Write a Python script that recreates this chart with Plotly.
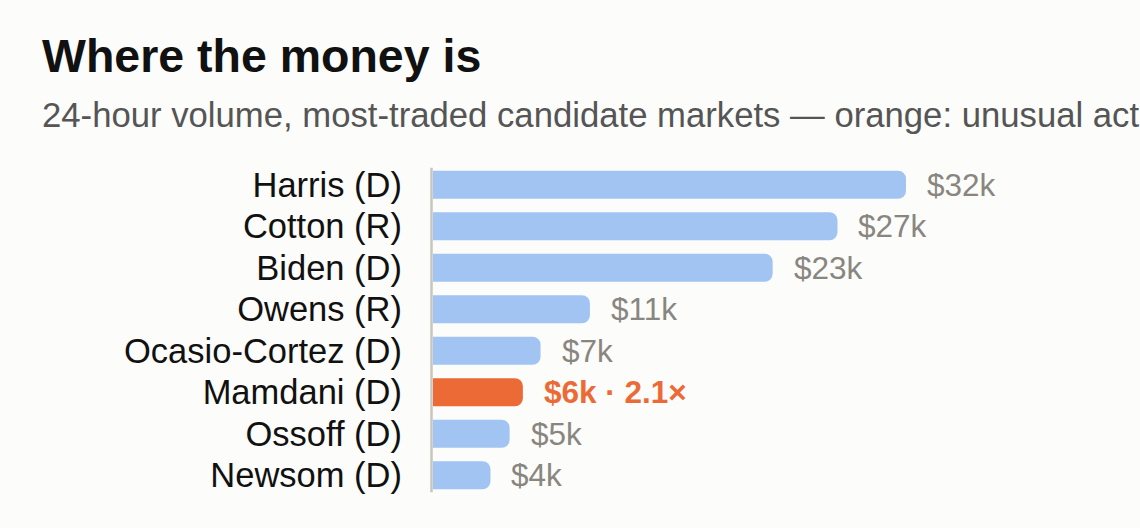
import plotly.graph_objects as go

# data
candidates = ["Harris (D)", "Cotton (R)", "Biden (D)", "Owens (R)",
              "Ocasio-Cortez (D)", "Mamdani (D)", "Ossoff (D)", "Newsom (D)"]
volume_usd = [32100, 27450, 23050, 10650, 7300, 6100, 5200, 3900]
unusual_ratio = [None, None, None, None, None, 2.1, None, None]

title = "Where the money is"
subtitle = "24-hour volume, most-traded candidate markets \u2014 orange: unusual activity vs. 7-day average"

FONT = "Liberation Sans, Arial, Helvetica, sans-serif"
BLUE = "#a1c4f3"
ORANGE = "#eb6a36"
BG = "#fcfcfa"

W, H = 1140, 528
M_L, M_R, M_T, M_B = 430, 20, 164, 32
plot_w = W - M_L - M_R
plot_h = H - M_T - M_B
px_per_usd = 473 / 32100
x_min = -3 / px_per_usd
x_max = x_min + plot_w / px_per_usd

colors = [ORANGE if r else BLUE for r in unusual_ratio]

fig = go.Figure()
fig.add_trace(go.Bar(
    x=volume_usd,
    y=candidates,
    orientation="h",
    marker=dict(color=colors, cornerradius=8, line=dict(width=0)),
    hoverinfo="skip",
))

# value labels right of each bar
for name, v, r in zip(candidates, volume_usd, unusual_ratio):
    label = f"${v / 1000:.0f}k"
    if r:
        label = f"<b>{label} \u00b7 {r:.1f}\u00d7</b>"
        col = ORANGE
    else:
        col = "#898680"
    fig.add_annotation(
        x=v, y=name, text=label, showarrow=False,
        xanchor="left", yanchor="middle", xshift=19,
        font=dict(family=FONT, size=31.5, color=col),
    )

# title + subtitle (subtitle runs off the right edge like the original)
fig.add_annotation(
    x=(40 - M_L) / plot_w, y=(H - M_B - 56) / plot_h, xref="paper", yref="paper",
    text=f"<b>{title}</b>", showarrow=False, xanchor="left", yanchor="middle",
    font=dict(family=FONT, size=46.5, color="#111111"),
)
fig.add_annotation(
    x=(40 - M_L) / plot_w, y=(H - M_B - 115) / plot_h, xref="paper", yref="paper",
    text=subtitle, showarrow=False, xanchor="left", yanchor="middle",
    font=dict(family=FONT, size=34.7, color="#555555"),
)

# baseline rule
fig.add_shape(
    type="line", xref="x", yref="y",
    x0=x_min / 2, x1=x_min / 2, y0=-0.41, y1=len(candidates) - 1 + 0.41,
    line=dict(color="#c9c6bd", width=2.5),
)

fig.update_layout(
    width=W, height=H,
    margin=dict(l=M_L, r=M_R, t=M_T, b=M_B),
    paper_bgcolor=BG, plot_bgcolor=BG,
    bargap=0.32,
    showlegend=False,
    font=dict(family=FONT, color="#111111"),
    xaxis=dict(range=[x_min, x_max], visible=False, showgrid=False, zeroline=False),
    yaxis=dict(
        categoryorder="array", categoryarray=candidates, autorange="reversed",
        showgrid=False, zeroline=False, showline=False, ticks="",
        ticklabelstandoff=27,
        tickfont=dict(family=FONT, size=34.5, color="#111111"),
    ),
)

fig.write_html(
    "out.html",
    config={"displayModeBar": False},
    post_script="document.body.style.margin='0';document.body.style.background='#fcfcfa';",
)
